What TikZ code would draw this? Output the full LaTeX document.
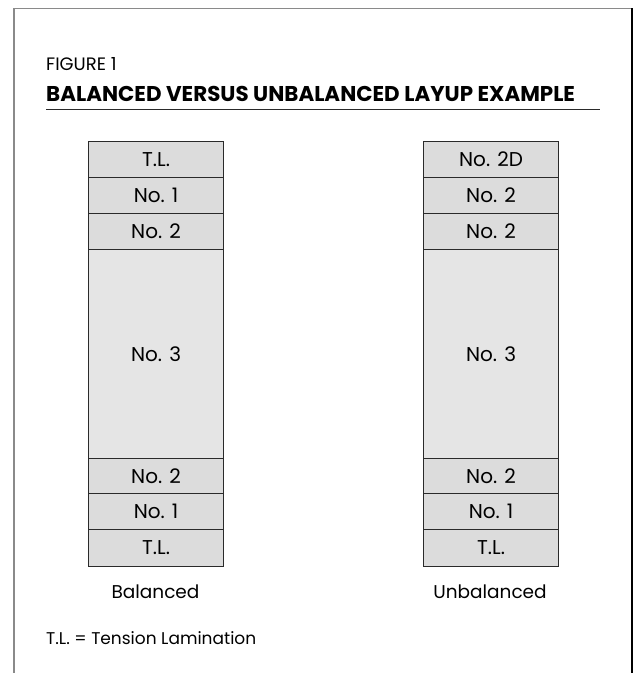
\documentclass[tikz,border=0pt]{standalone}
\usepackage{fontspec}
\setmainfont{Poppins}
\definecolor{rowfill}{HTML}{DCDCDC}
\definecolor{bigfill}{HTML}{E5E5E5}
\definecolor{edge}{HTML}{2A2A2A}
\definecolor{framegray}{HTML}{8A8A8A}
\tikzset{
  px/.style={x=1pt,y=-1pt},
  layer/.style={draw=edge,line width=1.1pt,fill=rowfill,minimum width=135pt,inner sep=0pt,anchor=north west,font=\fontsize{20}{20}\selectfont},
  biglayer/.style={layer,fill=bigfill},
  label/.style={font=\fontsize{18.5}{18.5}\selectfont,anchor=base},
}
\begin{document}
\begin{tikzpicture}[px]
\useasboundingbox (0,0) rectangle (634,673);
% frame
\draw[framegray,line width=1.2pt] (14,673) -- (14,8.5) -- (632,8.5);
\draw[black,line width=1.4pt] (632,8) -- (632,673);
% headings
\node[anchor=base west,inner sep=0pt,font=\fontsize{18}{18}\selectfont] (fig) at (46,70) {FIGURE 1};
\node[anchor=base west,inner sep=0pt,font=\fontsize{21.4}{21.4}\bfseries\selectfont] (title) at (46,101) {BALANCED VERSUS UNBALANCED LAYUP EXAMPLE};
\coordinate (ulA) at (46,109);
\coordinate (ulB) at (600,109);
\draw[edge,line width=0.9pt] (ulA) -- (ulB);
% left stack
\node[layer,minimum height=36pt] (l1) at (88,141) {T.L.};
\node[layer,minimum height=36pt] (l2) at (88,177) {No. 1};
\node[layer,minimum height=36pt] (l3) at (88,213) {No. 2};
\node[biglayer,minimum height=209pt] (l4) at (88,249) {No. 3};
\node[layer,minimum height=35pt] (l5) at (88,458) {No. 2};
\node[layer,minimum height=36pt] (l6) at (88,493) {No. 1};
\node[layer,minimum height=37pt] (l7) at (88,529) {T.L.};
% right stack
\node[layer,minimum height=36pt] (r1) at (423,141) {No. 2D};
\node[layer,minimum height=36pt] (r2) at (423,177) {No. 2};
\node[layer,minimum height=36pt] (r3) at (423,213) {No. 2};
\node[biglayer,minimum height=209pt] (r4) at (423,249) {No. 3};
\node[layer,minimum height=35pt] (r5) at (423,458) {No. 2};
\node[layer,minimum height=36pt] (r6) at (423,493) {No. 1};
\node[layer,minimum height=37pt] (r7) at (423,529) {T.L.};
% captions
\node[label] (bal) at (155.5,598) {Balanced};
\node[label] (unbal) at (490,598) {Unbalanced};
\node[anchor=base west,inner sep=0pt,font=\fontsize{17}{17}\selectfont] (note) at (46,644) {T.L. = Tension Lamination};
\end{tikzpicture}
\end{document}
